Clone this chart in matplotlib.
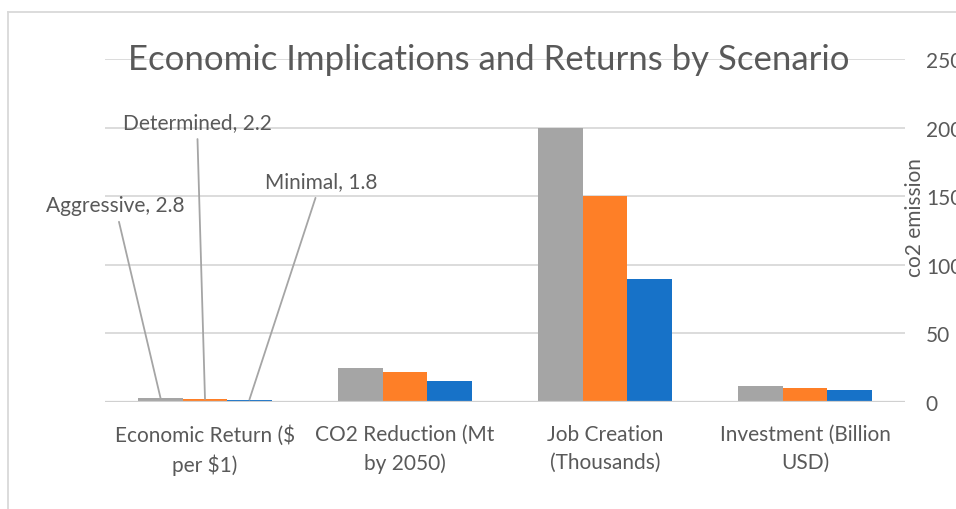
import matplotlib.pyplot as plt
from matplotlib.lines import Line2D
import numpy as np

plt.rcParams['font.family'] = ['Lato', 'DejaVu Sans']

categories = ['Economic Return ($\nper $1)', 'CO2 Reduction (Mt\nby 2050)',
              'Job Creation\n(Thousands)', 'Investment (Billion\nUSD)']
scenarios = ['Aggressive', 'Determined', 'Minimal']
aggressive = [2.8, 25, 200, 12]
determined = [2.2, 22, 150, 10]
minimal = [1.8, 15, 90, 8.5]
colors = ['#a5a5a5', '#fe7f27', '#1772c8']
yticks = [0, 50, 100, 150, 200, 250]

text_grey = '#595959'
fs = 15

fig = plt.figure(figsize=(9.56, 5.1), dpi=100)
ax = fig.add_axes([105 / 956, 1 - 403 / 510, 800 / 956, 343 / 510])

x = np.arange(len(categories))
w = 1 / 4.5
series = [aggressive, determined, minimal]
for i, (vals, c) in enumerate(zip(series, colors)):
    ax.bar(x + (i - 1) * w, vals, width=w, color=c, zorder=2)

ax.set_xlim(-0.5, 3.5)
ax.set_ylim(0, 250)
ax.set_yticks(yticks)
ax.yaxis.tick_right()
ax.tick_params(axis='y', length=0, pad=15, labelsize=fs, labelcolor=text_grey)
ax.set_xticks(x)
ax.set_xticklabels(categories, fontsize=fs, color=text_grey, linespacing=1.5)
ax.tick_params(axis='x', length=0, pad=16)
for t in ax.get_xticklabels():
    t.set_multialignment('center')

ax.grid(axis='y', color='#d9d9d9', linewidth=1.3, zorder=0)
for s in ax.spines.values():
    s.set_visible(False)
ax.axhline(0, color='#d0d0d0', linewidth=1.6, zorder=3)

ax.set_ylabel('co2 emission', fontsize=fs, color=text_grey, rotation=90)
ax.yaxis.set_label_position('right')
ax.yaxis.set_label_coords(1.0, 0.54)

ax.text(0.48, 1.0, 'Economic Implications and Returns by Scenario',
        transform=ax.transAxes, ha='center', va='center', fontsize=25,
        color=text_grey)

# data labels with leader lines for the first category
label_pos = [(-0.45, 143.6), (-0.04, 204), (0.58, 161)]
for i, (vals, pos) in enumerate(zip(series, label_pos)):
    ax.annotate('{}, {}'.format(scenarios[i], vals[0]),
                xy=(x[0] + (i - 1) * w, vals[0]), xytext=pos,
                ha='center', va='center', fontsize=fs, color=text_grey,
                arrowprops=dict(arrowstyle='-', color='#a5a5a5', lw=1.3,
                                shrinkA=3, shrinkB=0), zorder=4)

# chart area border
fig.add_artist(Line2D([8 / 956, 8 / 956], [0, 1 - 13 / 510], color='#d9d9d9',
                      linewidth=1.3, transform=fig.transFigure))
fig.add_artist(Line2D([8 / 956, 1], [1 - 13 / 510, 1 - 13 / 510], color='#d9d9d9',
                      linewidth=1.3, transform=fig.transFigure))

fig.savefig('out.png', dpi=100)
